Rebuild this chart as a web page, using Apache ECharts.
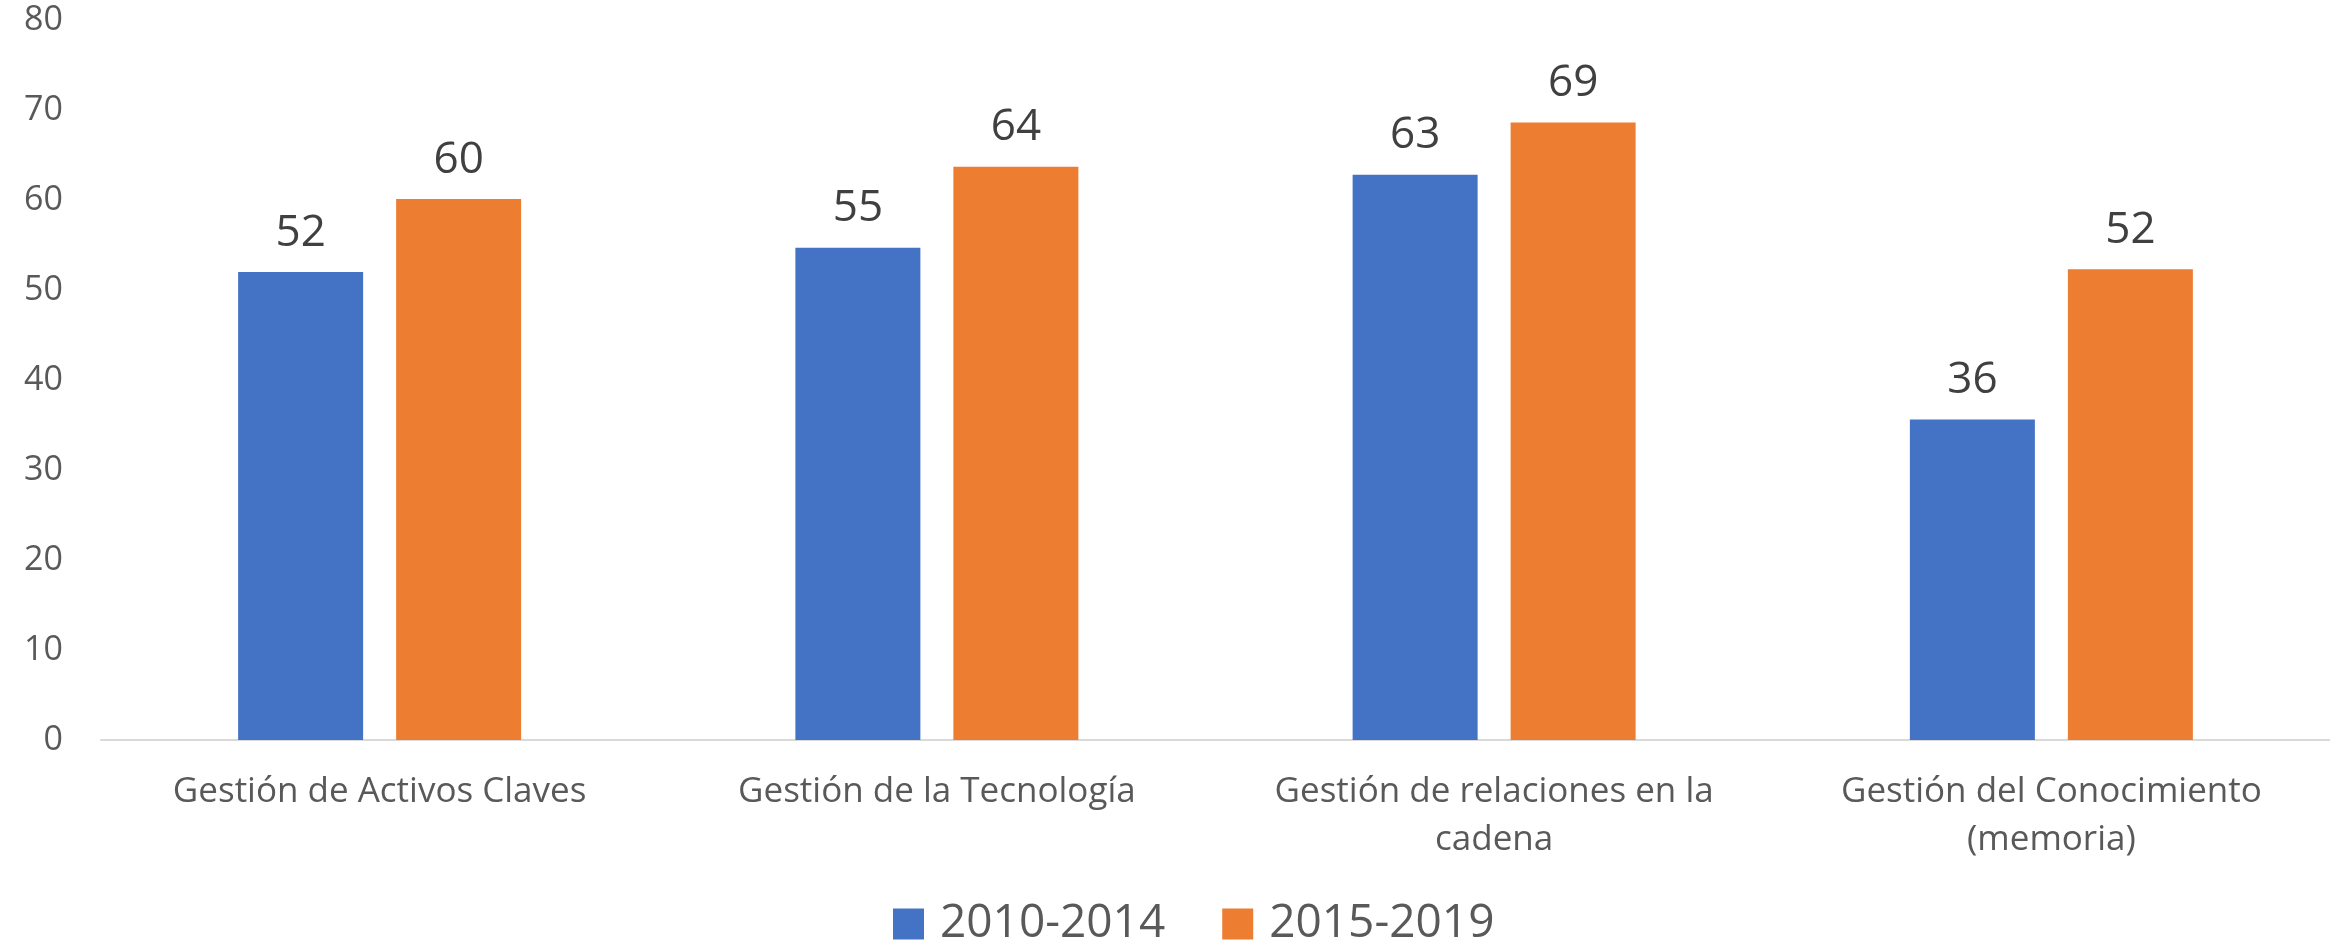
<!DOCTYPE html>
<html>
<head>
<meta charset="utf-8">
<script src="https://cdn.jsdelivr.net/npm/echarts@6/dist/echarts.min.js"></script>
<style>
  html, body { margin: 0; padding: 0; background: #ffffff; }
  #chart { width: 2330px; height: 951px; }
</style>
</head>
<body>
<div id="chart"></div>
<script>
const categories = [
  'Gestión de Activos Claves',
  'Gestión de la Tecnología',
  'Gestión de relaciones en la\ncadena',
  'Gestión del Conocimiento\n(memoria)'
];
const seriesNames = ['2010-2014', '2015-2019'];
const values2010 = [52.0, 54.7, 62.8, 35.6];
const values2015 = [60.1, 63.7, 68.6, 52.3];
const yTicks = { min: 0, max: 80, interval: 10 };

const FONT = 'Open Sans';
const chart = echarts.init(document.getElementById('chart'), null, { renderer: 'canvas' });

const labelStyle = {
  show: true,
  position: 'top',
  distance: 17,
  fontFamily: FONT,
  fontSize: 44,
  lineHeight: 44,
  color: '#404040',
  formatter: p => Math.round(p.value)
};

chart.setOption({
  animation: false,
  backgroundColor: '#ffffff',
  color: ['#4472C4', '#ED7D31'],
  grid: { left: 101, top: 20, width: 2236, bottom: 211, containLabel: false },
  legend: {
    data: seriesNames,
    left: 888,
    top: 896,
    itemWidth: 31,
    itemHeight: 31,
    itemGap: 57,
    icon: 'rect',
    textStyle: {
      fontFamily: FONT,
      fontSize: 46,
      lineHeight: 46,
      color: '#595959',
      padding: [0, 0, 0, 11]
    }
  },
  xAxis: {
    type: 'category',
    data: categories,
    axisLine: { show: true, lineStyle: { color: '#D9D9D9', width: 2 } },
    axisTick: { show: false },
    axisLabel: {
      interval: 0,
      margin: 28,
      fontFamily: FONT,
      fontSize: 35,
      lineHeight: 48,
      color: '#595959'
    },
    splitLine: { show: false }
  },
  yAxis: {
    type: 'value',
    min: yTicks.min,
    max: yTicks.max,
    interval: yTicks.interval,
    axisLine: { show: false },
    axisTick: { show: false },
    splitLine: { show: false },
    axisLabel: {
      margin: 38,
      fontFamily: FONT,
      fontSize: 34,
      color: '#595959'
    }
  },
  series: [
    {
      name: seriesNames[0],
      type: 'bar',
      data: values2010,
      barWidth: 125,
      barGap: '26.4%',
      label: labelStyle
    },
    {
      name: seriesNames[1],
      type: 'bar',
      data: values2015,
      barWidth: 125,
      barGap: '26.4%',
      label: labelStyle
    }
  ]
});
</script>
</body>
</html>
